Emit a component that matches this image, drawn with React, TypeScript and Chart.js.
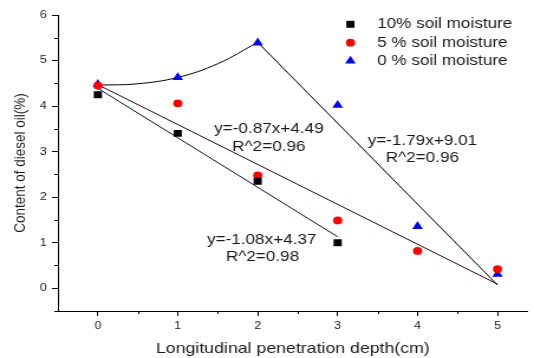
import React, { useEffect, useRef } from 'react';
import { Chart, registerables } from 'chart.js';
import { drawPoint } from 'chart.js/helpers';

Chart.register(...registerables);

// ---- data ----
const depths = [0, 1, 2, 3, 4, 5];
const moisture10 = [4.25, 3.4, 2.35, 1.0];
const moisture5 = [4.45, 4.06, 2.48, 1.49, 0.82, 0.42];
const moisture0 = [4.48, 4.63, 5.39, 4.02, 1.36, 0.31];

// fitted / guide lines as drawn in the reference
const fit10X = [0, 3];
const fit10Y = [4.39, 1.13];
const fit5X = [0, 5];
const fit5Y = [4.47, 0.09];
const curve0X = [0, 0.5, 1, 1.5, 2];
const curve0Y = [4.46, 4.49, 4.63, 4.93, 5.4];
const fit0X = [2, 5];
const fit0Y = [5.4, 0.07];

const xTicks = [0, 1, 2, 3, 4, 5];
const yTicks = [0, 1, 2, 3, 4, 5, 6];
const xMinorTicks = [0.5, 1.5, 2.5, 3.5, 4.5];
const yMinorTicks = [-0.5, 0.5, 1.5, 2.5, 3.5, 4.5, 5.5];

const seriesLabels = ['10% soil moisture', '5 % soil moisture', '0 % soil moisture'];

const equationTexts = ['y=-0.87x+4.49', 'R^2=0.96', 'y=-1.08x+4.37', 'R^2=0.98', 'y=-1.79x+9.01', 'R^2=0.96'];
// anchor of each equation text, in data units
const equationAnchors = [
  [2.14, 3.5],
  [2.14, 3.11],
  [2.05, 1.07],
  [2.06, 0.69],
  [4.06, 3.23],
  [4.06, 2.85],
];

const FONT = "'Liberation Sans', Arial, sans-serif";
const TEXT = '#1a1a1a';

const pts = (xs: number[], ys: number[]) => ys.map((y, i) => ({ x: xs[i], y }));

const minorTicksPlugin = {
  id: 'minorTicks',
  afterDraw(chart: any) {
    const { ctx, chartArea, scales } = chart;
    const x = scales.x;
    const y = scales.y;
    ctx.save();
    ctx.strokeStyle = '#000';
    ctx.lineWidth = 1;
    ctx.beginPath();
    xMinorTicks.forEach((v) => {
      const px = Math.round(x.getPixelForValue(v)) + 0.5;
      ctx.moveTo(px, chartArea.bottom);
      ctx.lineTo(px, chartArea.bottom + 3);
    });
    yMinorTicks.forEach((v) => {
      const py = Math.round(y.getPixelForValue(v)) + 0.5;
      ctx.moveTo(chartArea.left - 3, py);
      ctx.lineTo(chartArea.left, py);
    });
    ctx.stroke();
    ctx.restore();
  },
};

const textPlugin = {
  id: 'equations',
  afterDatasetsDraw(chart: any) {
    const { ctx, scales } = chart;
    ctx.save();
    ctx.font = `14.5px ${FONT}`;
    ctx.fillStyle = TEXT;
    ctx.textAlign = 'center';
    ctx.textBaseline = 'middle';
    equationTexts.forEach((t, i) => {
      const [vx, vy] = equationAnchors[i];
      ctx.fillText(t, scales.x.getPixelForValue(vx), scales.y.getPixelForValue(vy));
    });
    ctx.restore();
  },
};

const legendPlugin = {
  id: 'customLegend',
  afterDraw(chart: any) {
    const { ctx } = chart;
    const markerX = 296.6;
    const textX = 319.2;
    const rowY = [24.3, 42.7, 61];
    ctx.save();
    seriesLabels.forEach((label, i) => {
      const ds: any = chart.data.datasets[i];
      ctx.fillStyle = ds.backgroundColor;
      ctx.strokeStyle = ds.backgroundColor;
      drawPoint(ctx, { pointStyle: ds.pointStyle, radius: ds.pointRadius, rotation: 0, borderWidth: 0 } as any, markerX, rowY[i]);
      ctx.font = `14.5px ${FONT}`;
      ctx.fillStyle = TEXT;
      ctx.textAlign = 'left';
      ctx.textBaseline = 'middle';
      ctx.fillText(label, textX, rowY[i]);
    });
    ctx.restore();
  },
};

export default function App() {
  const canvasRef = useRef<HTMLCanvasElement | null>(null);

  useEffect(() => {
    if (!canvasRef.current) return;
    const scatterBase = { showLine: false, pointBorderWidth: 0, pointHoverRadius: 0 };
    const lineBase = { showLine: true, pointRadius: 0, pointHoverRadius: 0, borderWidth: 1, fill: false };
    const chart = new Chart(canvasRef.current, {
      type: 'scatter',
      data: {
        datasets: [
          {
            ...scatterBase,
            label: seriesLabels[0],
            data: pts(depths, moisture10),
            pointStyle: 'rect',
            pointRadius: 4.9,
            backgroundColor: '#000000',
            borderColor: '#000000',
          } as any,
          {
            ...scatterBase,
            label: seriesLabels[1],
            data: pts(depths, moisture5),
            pointStyle: 'circle',
            pointRadius: 3.9,
            backgroundColor: '#ff0000',
            borderColor: '#ff0000',
          } as any,
          {
            ...scatterBase,
            label: seriesLabels[2],
            data: pts(depths, moisture0),
            pointStyle: 'triangle',
            pointRadius: 5.2,
            backgroundColor: '#0000ff',
            borderColor: '#0000ff',
          } as any,
          { ...lineBase, label: 'fit10', data: pts(fit10X, fit10Y), borderColor: '#0a0a40', tension: 0 } as any,
          { ...lineBase, label: 'fit5', data: pts(fit5X, fit5Y), borderColor: '#2e0505', tension: 0 } as any,
          { ...lineBase, label: 'curve0', data: pts(curve0X, curve0Y), borderColor: '#000000', tension: 0.4 } as any,
          { ...lineBase, label: 'fit0', data: pts(fit0X, fit0Y), borderColor: '#000000', tension: 0 } as any,
        ],
      },
      options: {
        animation: false,
        responsive: false,
        devicePixelRatio: 1,
        events: [],
        layout: { padding: { top: 15, right: 0, bottom: 0, left: 0 } },
        plugins: { legend: { display: false }, tooltip: { enabled: false } },
        scales: {
          x: {
            type: 'linear',
            min: -0.5,
            max: 5.38,
            afterBuildTicks: (s: any) => {
              s.ticks = xTicks.map((v) => ({ value: v }));
            },
            afterFit: (s: any) => {
              s.height = 47;
            },
            grid: { display: true, drawOnChartArea: false, drawTicks: true, tickLength: 5, color: '#000', lineWidth: 1 },
            border: { display: true, color: '#000', width: 1 },
            ticks: {
              font: { family: FONT, size: 10.5 },
              color: TEXT,
              padding: 4,
              maxRotation: 0,
              autoSkip: false,
              callback: (v: any) => String(v),
            },
            title: {
              display: true,
              text: 'Longitudinal penetration depth(cm)',
              font: { family: FONT, size: 15 },
              color: TEXT,
              padding: { top: 0, bottom: 0 },
            },
          },
          y: {
            type: 'linear',
            min: -0.5,
            max: 6,
            afterBuildTicks: (s: any) => {
              s.ticks = yTicks.map((v) => ({ value: v }));
            },
            afterFit: (s: any) => {
              s.width = 49;
            },
            grid: { display: true, drawOnChartArea: false, drawTicks: true, tickLength: 5, color: '#000', lineWidth: 1 },
            border: { display: true, color: '#000', width: 1 },
            ticks: {
              font: { family: FONT, size: 10.5 },
              color: TEXT,
              padding: 4.5,
              autoSkip: false,
              callback: (v: any) => String(v),
            },
            title: {
              display: true,
              text: 'Content of diesel oil(%)',
              font: { family: FONT, size: 13.5 },
              color: TEXT,
              padding: { top: 9, bottom: 0 },
            },
          },
        },
      } as any,
      plugins: [minorTicksPlugin, textPlugin, legendPlugin],
    });
    return () => chart.destroy();
  }, []);

  return (
    <div style={{ position: 'absolute', left: 0, top: 0, width: 534, height: 358, background: '#fff' }}>
      <canvas ref={canvasRef} width={452} height={358} style={{ width: '534px', height: '358px', display: 'block' }} />
    </div>
  );
}
